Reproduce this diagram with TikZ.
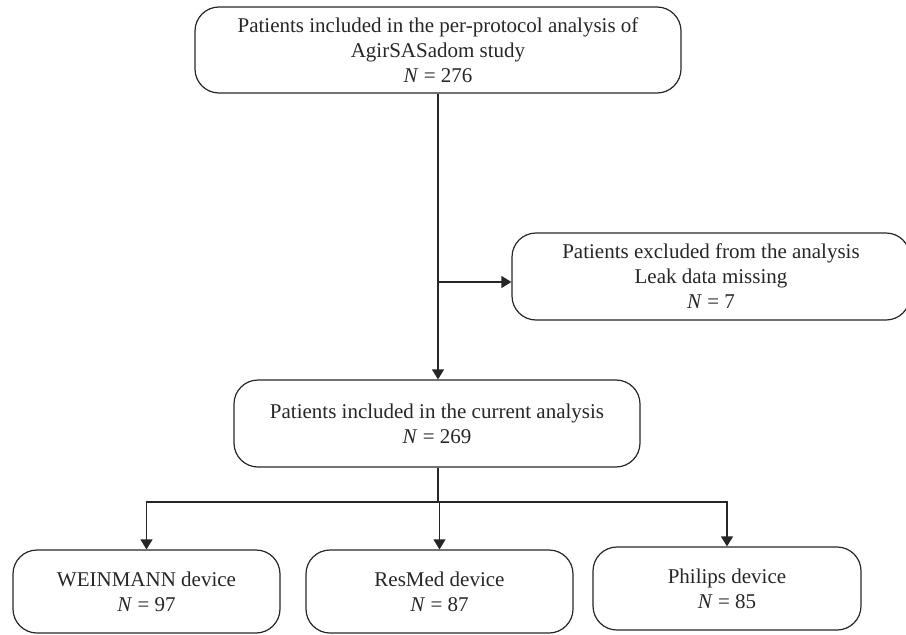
\documentclass[tikz,border=0pt]{standalone}
\usepackage{fontspec}
\setmainfont{Liberation Serif}
\usetikzlibrary{arrows.meta}
\begin{document}
\begin{tikzpicture}[x=1pt,y=-1pt,
  flowbox/.style={draw=black!85, line width=1.2pt, rounded corners=24pt, align=center,
    font=\fontsize{21}{25}\selectfont, inner sep=0pt, text=black!85},
  conn/.style={draw=black!85, line width=1.2pt},
  arr/.style={conn, -{Triangle[length=10pt,width=12pt]}}]
\useasboundingbox (0,0) rectangle (906,635);
\node[flowbox, minimum width=486pt, minimum height=86pt] (top) at (438,50)
  {Patients included in the per-protocol analysis of\\AgirSASadom study\\\textit{N} = 276};
\node[flowbox, minimum width=398pt, minimum height=87pt] (excl) at (711,276.5)
  {Patients excluded from the analysis\\Leak data missing\\\textit{N} = 7};
\node[flowbox, minimum width=406pt, minimum height=87pt] (mid) at (437,423.5)
  {Patients included in the current analysis\\\textit{N} = 269};
\node[flowbox, minimum width=267pt, minimum height=83pt] (wein) at (146.5,591.5)
  {WEINMANN device\\\textit{N} = 97};
\node[flowbox, minimum width=267pt, minimum height=83pt] (resm) at (439.5,591.5)
  {ResMed device\\\textit{N} = 87};
\node[flowbox, minimum width=268pt, minimum height=83pt] (phil) at (727,588.5)
  {Philips device\\\textit{N} = 85};
\coordinate (j1) at (438,282);
\coordinate (j2) at (438,502);
\draw[arr] (top.south) -- (top.south |- mid.north);
\draw[arr] (j1) -- (j1 -| excl.west);
\draw[conn] (top.south |- mid.south) -- (j2);
\draw[arr] (j2) -| (wein.north);
\draw[arr] (j2) -| (resm.north);
\draw[arr] (j2) -| (phil.north);
\end{tikzpicture}
\end{document}
